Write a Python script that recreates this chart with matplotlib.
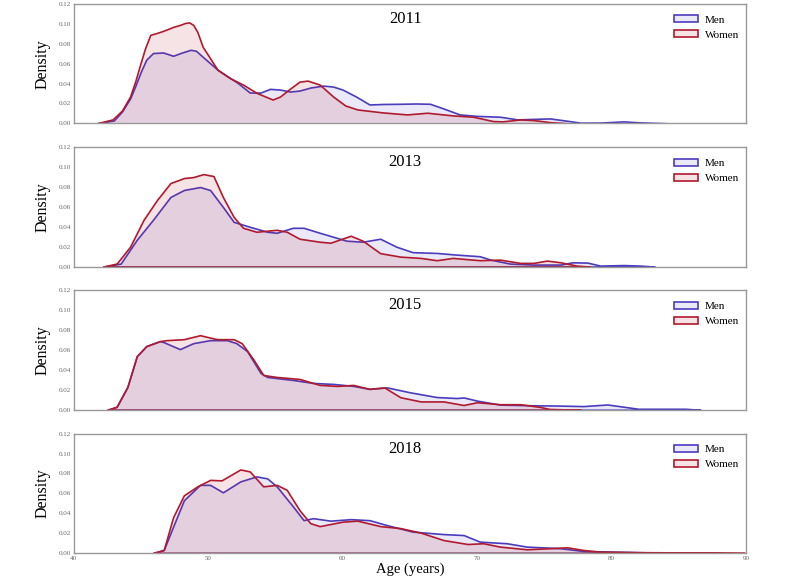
import matplotlib
matplotlib.use("Agg")
import matplotlib.pyplot as plt
from matplotlib.patches import Patch

plt.rcParams['font.family'] = ['Liberation Serif', 'DejaVu Serif']

years = ["2011", "2013", "2015", "2018"]

men_2011_age = [41.7, 43.0, 43.6, 44.2, 44.6, 45.0, 45.4, 45.9, 46.65, 47.4, 48.0, 48.7, 49.1, 49.6, 50.7, 51.6, 52.2, 53.1, 53.9, 54.6, 55.35, 56.1, 56.8, 57.6, 58.55, 59.3, 60.0, 61.0, 62.0, 63.0, 64.3, 65.5, 66.5, 67.5, 68.7, 70.0, 71.7, 73.0, 74.2, 75.4, 76.5, 77.7, 79.2, 80.9, 82.1, 84.35]
men_2011_den = [0.0, 0.003, 0.012, 0.025, 0.038, 0.052, 0.064, 0.0707, 0.0713, 0.068, 0.071, 0.074, 0.073, 0.067, 0.054, 0.046, 0.0407, 0.031, 0.031, 0.0347, 0.034, 0.032, 0.033, 0.036, 0.038, 0.037, 0.034, 0.027, 0.019, 0.0195, 0.0197, 0.020, 0.0197, 0.015, 0.009, 0.0075, 0.0067, 0.004, 0.0045, 0.005, 0.003, 0.0007, 0.0008, 0.002, 0.001, 0.0]
women_2011_age = [41.7, 42.9, 43.6, 44.2, 44.6, 44.9, 45.3, 45.7, 46.2, 46.65, 47.4, 47.9, 48.3, 48.6, 48.9, 49.2, 49.6, 50.7, 51.6, 52.6, 53.6, 54.8, 55.35, 56.1, 56.8, 57.4, 58.3, 59.3, 60.2, 61.1, 63.0, 64.8, 66.3, 68.2, 69.7, 71.2, 71.9, 73.2, 74.2, 75.4, 76.9]
women_2011_den = [0.0, 0.004, 0.013, 0.027, 0.043, 0.057, 0.075, 0.089, 0.091, 0.093, 0.097, 0.099, 0.101, 0.1015, 0.099, 0.092, 0.077, 0.054, 0.0457, 0.039, 0.0307, 0.024, 0.027, 0.035, 0.042, 0.043, 0.039, 0.027, 0.018, 0.014, 0.011, 0.009, 0.0107, 0.008, 0.0067, 0.0023, 0.002, 0.004, 0.0033, 0.0013, 0.0]

men_2013_age = [42.2, 43.5, 44.7, 45.9, 47.2, 48.2, 49.4, 50.15, 51.1, 51.9, 53.1, 54.4, 55.1, 56.3, 57.1, 58.3, 59.3, 60.3, 61.5, 62.8, 64.0, 65.2, 67.0, 68.5, 70.2, 71.0, 72.45, 74.2, 76.2, 77.1, 78.2, 79.15, 80.9, 82.1, 83.2]
men_2013_den = [0.0, 0.003, 0.027, 0.047, 0.070, 0.077, 0.080, 0.077, 0.060, 0.045, 0.040, 0.035, 0.034, 0.039, 0.039, 0.034, 0.030, 0.026, 0.025, 0.028, 0.020, 0.0145, 0.0137, 0.012, 0.0104, 0.007, 0.003, 0.002, 0.002, 0.0043, 0.004, 0.001, 0.0015, 0.001, 0.0]
women_2013_age = [42.2, 43.2, 44.2, 45.2, 46.2, 47.2, 48.2, 48.9, 49.65, 50.4, 51.1, 51.9, 52.6, 53.6, 55.1, 55.85, 56.8, 58.3, 59.1, 60.6, 61.5, 62.8, 64.3, 65.8, 67.0, 68.2, 70.2, 71.7, 73.2, 74.2, 75.2, 76.2, 77.4, 78.4]
women_2013_den = [0.0, 0.003, 0.020, 0.047, 0.067, 0.084, 0.089, 0.090, 0.093, 0.091, 0.070, 0.050, 0.039, 0.035, 0.037, 0.035, 0.028, 0.025, 0.024, 0.031, 0.026, 0.0135, 0.010, 0.0087, 0.0064, 0.0087, 0.0064, 0.007, 0.0037, 0.0037, 0.006, 0.0043, 0.001, 0.0]

men_2015_age = [42.5, 43.2, 44.0, 44.7, 45.4, 46.4, 46.7, 47.9, 48.9, 50.15, 51.4, 52.1, 52.9, 53.9, 54.4, 56.3, 57.8, 59.3, 60.8, 62.0, 63.3, 65.0, 67.0, 68.5, 69.0, 70.0, 71.7, 74.2, 76.2, 77.9, 79.7, 80.4, 82.0, 85.5, 86.6]
men_2015_den = [0.0, 0.003, 0.023, 0.054, 0.064, 0.069, 0.068, 0.061, 0.067, 0.070, 0.070, 0.067, 0.059, 0.037, 0.033, 0.030, 0.027, 0.026, 0.024, 0.021, 0.0225, 0.0176, 0.0128, 0.0118, 0.0124, 0.0092, 0.0052, 0.0045, 0.0042, 0.0037, 0.0053, 0.004, 0.001, 0.001, 0.0]
women_2015_age = [42.5, 43.2, 44.0, 44.7, 45.4, 46.4, 46.9, 48.2, 49.4, 50.65, 51.9, 52.5, 53.4, 54.1, 55.1, 56.8, 58.3, 59.6, 60.8, 62.0, 63.1, 64.3, 65.8, 67.5, 69.0, 70.0, 71.7, 73.2, 74.7, 75.4, 77.7]
women_2015_den = [0.0, 0.003, 0.023, 0.054, 0.064, 0.069, 0.070, 0.071, 0.075, 0.071, 0.071, 0.067, 0.050, 0.035, 0.033, 0.031, 0.025, 0.024, 0.025, 0.021, 0.0225, 0.0126, 0.0084, 0.0084, 0.0048, 0.0076, 0.0056, 0.0056, 0.0028, 0.0008, 0.0]

men_2018_age = [45.9, 46.7, 47.4, 48.2, 49.4, 50.15, 51.1, 52.4, 53.6, 54.4, 55.1, 56.3, 57.1, 57.8, 59.1, 60.6, 62.0, 63.3, 65.2, 67.5, 69.0, 70.2, 72.2, 73.7, 76.2, 77.9, 80.4, 83.0, 86.6]
men_2018_den = [0.0, 0.003, 0.0265, 0.053, 0.0685, 0.0685, 0.061, 0.072, 0.077, 0.075, 0.067, 0.047, 0.033, 0.035, 0.0325, 0.034, 0.033, 0.028, 0.0215, 0.019, 0.018, 0.0114, 0.0098, 0.0064, 0.0048, 0.002, 0.0013, 0.0005, 0.0]
women_2018_age = [45.9, 46.7, 47.4, 48.2, 49.2, 50.15, 51.0, 52.4, 53.1, 54.1, 55.1, 55.85, 56.8, 57.6, 58.3, 60.0, 61.1, 62.8, 64.3, 65.8, 67.5, 69.3, 70.45, 71.7, 73.7, 75.4, 76.7, 77.9, 79.15, 82.0, 86.0, 89.9]
women_2018_den = [0.0, 0.003, 0.036, 0.058, 0.067, 0.0735, 0.073, 0.084, 0.082, 0.067, 0.0685, 0.0635, 0.043, 0.030, 0.027, 0.0315, 0.0325, 0.027, 0.025, 0.0205, 0.013, 0.009, 0.0098, 0.0064, 0.0037, 0.0048, 0.0057, 0.003, 0.0013, 0.0008, 0.0005, 0.0]

men_series = [(men_2011_age, men_2011_den), (men_2013_age, men_2013_den),
              (men_2015_age, men_2015_den), (men_2018_age, men_2018_den)]
women_series = [(women_2011_age, women_2011_den), (women_2013_age, women_2013_den),
                (women_2015_age, women_2015_den), (women_2018_age, women_2018_den)]

x_ticks = [40, 50, 60, 70, 80, 90]
y_ticks = [0.00, 0.02, 0.04, 0.06, 0.08, 0.10, 0.12]

men_color = "#4B3CBE"
women_color = "#B01A2E"
men_fill = (0.29, 0.24, 0.75, 0.11)
women_fill = (0.69, 0.10, 0.18, 0.12)

fig, axes = plt.subplots(4, 1, figsize=(8, 5.78), dpi=100, sharex=True)
fig.subplots_adjust(left=0.092, right=0.9325, top=0.993, bottom=0.0433, hspace=0.2)

for i, ax in enumerate(axes):
    mx, my = men_series[i]
    wx, wy = women_series[i]
    ax.fill_between(mx, my, 0, facecolor=men_fill, edgecolor=men_color, linewidth=1.2, joinstyle='round')
    ax.fill_between(wx, wy, 0, facecolor=women_fill, edgecolor=women_color, linewidth=1.2, joinstyle='round')
    ax.set_xlim(40, 90)
    ax.set_ylim(0, 0.12)
    ax.set_yticks(y_ticks)
    ax.set_yticklabels([f"{v:.2f}" for v in y_ticks])
    ax.set_xticks(x_ticks)
    ax.tick_params(axis='both', length=0, labelsize=5, labelcolor="#666666", pad=2)
    for s in ax.spines.values():
        s.set_color("#999999")
        s.set_linewidth(1.0)
    ax.set_ylabel("Density", fontsize=11.5, labelpad=6)
    ax.text(0.493, 0.875, years[i], transform=ax.transAxes, ha='center', va='center', fontsize=12)
    handles = [Patch(facecolor=men_fill, edgecolor=men_color, linewidth=1.2, label="Men"),
               Patch(facecolor=women_fill, edgecolor=women_color, linewidth=1.2, label="Women")]
    ax.legend(handles=handles, loc='upper left', bbox_to_anchor=(0.893, 0.905), frameon=False,
              fontsize=8, borderpad=0, borderaxespad=0, handlelength=2.2, handleheight=0.6,
              handletextpad=0.6, labelspacing=0.5)

axes[-1].set_xticklabels([str(v) for v in x_ticks])
axes[-1].set_xlabel("Age (years)", fontsize=10.5, labelpad=1)

fig.savefig("out.png", dpi=100)
